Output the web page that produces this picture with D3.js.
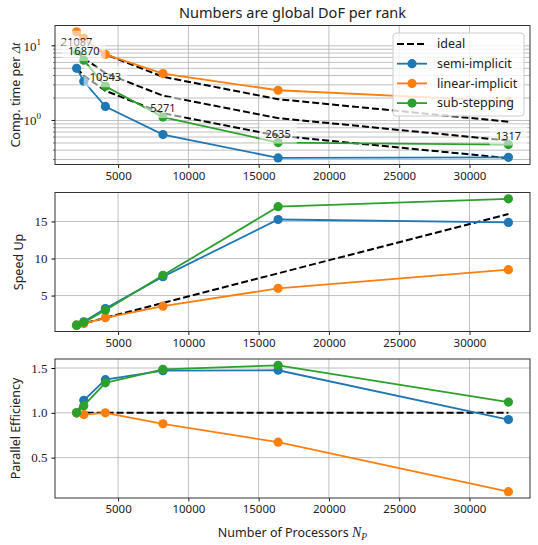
<!DOCTYPE html>
<html>
<head>
<meta charset="utf-8">
<script src="https://cdn.jsdelivr.net/npm/d3@7"></script>
<style>
body { margin: 0; background: #fff; }
text { fill: #222; }
</style>
</head>
<body>
<svg width="538" height="545"></svg>
<script>
// data
var procs = [2048, 2560, 4096, 8192, 16384, 32768];
var dofLabels = ["21087", "16870", "10543", "5271", "2635", "1317"];
var seriesNames = ["semi-implicit", "linear-implicit", "sub-stepping"];
var xTicks = [5000, 10000, 15000, 20000, 25000, 30000];

var timeSemi = [5.0, 3.35, 1.54, 0.648, 0.315, 0.321];
var timeLinear = [15.4, 12.6, 7.66, 4.25, 2.54, 1.82];
var timeSub = [8.6, 6.43, 2.87, 1.11, 0.506, 0.475];
var idealTimeSemi = [5.0, 4.0, 2.5, 1.25, 0.625, 0.3125];
var idealTimeLinear = [15.4, 12.32, 7.7, 3.85, 1.925, 0.9625];
var idealTimeSub = [8.6, 6.88, 4.3, 2.15, 1.075, 0.5375];

var speedSemi = [1, 1.45, 3.25, 7.55, 15.27, 14.87];
var speedLinear = [1, 1.22, 2.0, 3.56, 5.98, 8.5];
var speedSub = [1, 1.38, 3.03, 7.73, 17.0, 18.06];
var speedIdeal = [1, 1.25, 2, 4, 8, 16];
var speedTicks = [5, 10, 15];

var effSemi = [1, 1.14, 1.37, 1.47, 1.475, 0.925];
var effLinear = [1, 0.98, 1.0, 0.877, 0.672, 0.12];
var effSub = [1, 1.08, 1.335, 1.485, 1.53, 1.12];
var effIdeal = [1, 1, 1, 1, 1, 1];
var effTicks = [0.5, 1.0, 1.5];

var colors = ["#1f77b4", "#ff7f0e", "#2ca02c"];

var svg = d3.select("svg"),
  left = 55, right = 530, panelH = 139;

var x = d3.scaleLinear()
  .domain([512, 34304])
  .range([left, right]);

var sans = "'Noto Sans', 'DejaVu Sans', sans-serif";
var serif = "'Liberation Serif', 'DejaVu Serif', serif";

function pad(lo, hi, isLog) {
  if (isLog) {
    var a = Math.log10(lo), b = Math.log10(hi), m = (b - a) * 0.05;
    return [Math.pow(10, a - m), Math.pow(10, b + m)];
  }
  var m = (hi - lo) * 0.05;
  return [lo - m, hi + m];
}

function panel(top, y, gridY, series, ideals) {
  var g = svg.append("g");

  // grid
  g.selectAll(".gx").data(xTicks).enter().append("line")
    .attr("x1", x).attr("x2", x)
    .attr("y1", top).attr("y2", top + panelH)
    .attr("stroke", "#b0b0b0").attr("stroke-width", 0.8);
  g.selectAll(".gy").data(gridY).enter().append("line")
    .attr("x1", left).attr("x2", right)
    .attr("y1", y).attr("y2", y)
    .attr("stroke", "#b0b0b0").attr("stroke-width", 0.8);

  var line = d3.line()
    .x(function(d, i) { return x(procs[i]); })
    .y(function(d) { return y(d); });

  ideals.forEach(function(vals) {
    g.append("path")
      .attr("d", line(vals))
      .attr("fill", "none")
      .attr("stroke", "#000")
      .attr("stroke-width", 2)
      .attr("stroke-dasharray", "7,3");
  });

  series.forEach(function(vals, k) {
    g.append("path")
      .attr("d", line(vals))
      .attr("fill", "none")
      .attr("stroke", colors[k])
      .attr("stroke-width", 1.8);
    g.selectAll(".pt" + k).data(vals).enter().append("circle")
      .attr("cx", function(d, i) { return x(procs[i]); })
      .attr("cy", y)
      .attr("r", 4.6)
      .attr("fill", colors[k]);
  });

  // x axis
  var xa = g.append("g")
    .attr("transform", "translate(0," + (top + panelH) + ")")
    .call(d3.axisBottom(x).tickValues(xTicks).tickSize(3.5).tickPadding(3.5).tickFormat(d3.format("d")));
  xa.select(".domain").remove();
  xa.selectAll("text").attr("font-family", sans).attr("font-size", 11.5).attr("fill", "#222");
  xa.selectAll("line").attr("stroke", "#222");

  return g;
}

function frame(g, top) {
  g.append("rect")
    .attr("x", left).attr("y", top)
    .attr("width", right - left).attr("height", panelH)
    .attr("fill", "none")
    .attr("stroke", "#333")
    .attr("stroke-width", 1);
}

// ---------- top panel: time per step (log) ----------
var top1 = 25.5;
var yT = d3.scaleLog()
  .domain(pad(d3.min(idealTimeSemi), d3.max(timeLinear), true))
  .range([top1 + panelH, top1]);

var minor = [];
[0.1, 1, 10].forEach(function(dec) {
  for (var k = 1; k < 10; k++) {
    var v = k * dec;
    if (v >= yT.domain()[0] && v <= yT.domain()[1]) minor.push(v);
  }
});

var g1 = panel(top1, yT, minor,
  [timeSemi, timeLinear, timeSub],
  [idealTimeLinear, idealTimeSub, idealTimeSemi]);

// DoF per rank labels
dofLabels.forEach(function(lab, i) {
  var t = g1.append("text")
    .attr("x", x(procs[i]))
    .attr("y", yT(timeSub[i]) - 5)
    .attr("text-anchor", "middle")
    .attr("font-family", sans)
    .attr("font-size", 11)
    .attr("fill", "#333")
    .text(lab);
  var b = t.node().getBBox();
  g1.insert("rect", function() { return t.node(); })
    .attr("x", b.x - 6).attr("y", b.y - 3)
    .attr("width", b.width + 12).attr("height", b.height + 6)
    .attr("fill", "#fff").attr("fill-opacity", 0.55);
});

// minor ticks + decade labels on y
g1.selectAll(".mt").data(minor).enter().append("line")
  .attr("x1", left - 2).attr("x2", left)
  .attr("y1", yT).attr("y2", yT)
  .attr("stroke", "#222").attr("stroke-width", 0.6);
[1, 10].forEach(function(v) {
  g1.append("line")
    .attr("x1", left - 3.5).attr("x2", left)
    .attr("y1", yT(v)).attr("y2", yT(v))
    .attr("stroke", "#222");
  var t = g1.append("text")
    .attr("x", left - 14)
    .attr("y", yT(v) + 5)
    .attr("text-anchor", "end")
    .attr("font-family", serif)
    .attr("font-size", 13)
    .text("10");
  t.append("tspan")
    .attr("dy", -6)
    .attr("font-size", 9)
    .text(v === 1 ? "0" : "1");
});

// legend
var leg = g1.append("g").attr("transform", "translate(393,33)");
leg.append("rect")
  .attr("width", 131).attr("height", 83).attr("rx", 3)
  .attr("fill", "#fff").attr("fill-opacity", 0.8)
  .attr("stroke", "#ccc");
var legItems = ["ideal"].concat(seriesNames);
legItems.forEach(function(name, i) {
  var yy = 11 + i * 19.7;
  var ln = leg.append("line")
    .attr("x1", 4).attr("x2", 34)
    .attr("y1", yy).attr("y2", yy)
    .attr("stroke", i === 0 ? "#000" : colors[i - 1])
    .attr("stroke-width", i === 0 ? 2 : 1.8);
  if (i === 0) ln.attr("stroke-dasharray", "7,3");
  else leg.append("circle").attr("cx", 19).attr("cy", yy).attr("r", 4.6).attr("fill", colors[i - 1]);
  leg.append("text")
    .attr("x", 44).attr("y", yy)
    .attr("dy", "0.35em")
    .attr("font-family", sans)
    .attr("font-size", 12.5)
    .text(name);
});
frame(g1, top1);

// ---------- middle panel: speed up ----------
var top2 = 192.5;
var yS = d3.scaleLinear()
  .domain(pad(1, d3.max(speedSub), false))
  .range([top2 + panelH, top2]);
var g2 = panel(top2, yS, speedTicks,
  [speedSemi, speedLinear, speedSub], [speedIdeal]);
var ya2 = g2.append("g")
  .attr("transform", "translate(" + left + ",0)")
  .call(d3.axisLeft(yS).tickValues(speedTicks).tickSize(3.5).tickPadding(4));
ya2.select(".domain").remove();
ya2.selectAll("text").attr("font-family", serif).attr("font-size", 13).attr("fill", "#222");
frame(g2, top2);

// ---------- bottom panel: parallel efficiency ----------
var top3 = 359;
var yE = d3.scaleLinear()
  .domain(pad(d3.min(effLinear), d3.max(effSub), false))
  .range([top3 + panelH, top3]);
var g3 = panel(top3, yE, effTicks,
  [effSemi, effLinear, effSub], [effIdeal]);
var ya3 = g3.append("g")
  .attr("transform", "translate(" + left + ",0)")
  .call(d3.axisLeft(yE).tickValues(effTicks).tickSize(3.5).tickPadding(4).tickFormat(d3.format(".1f")));
ya3.select(".domain").remove();
ya3.selectAll("text").attr("font-family", serif).attr("font-size", 13).attr("fill", "#222");
frame(g3, top3);

// ---------- titles and labels ----------
svg.append("text")
  .attr("x", (left + right) / 2).attr("y", 18)
  .attr("text-anchor", "middle")
  .attr("font-family", sans)
  .attr("font-size", 14.5)
  .text("Numbers are global DoF per rank");

var yl1 = svg.append("text")
  .attr("transform", "translate(20," + (top1 + panelH / 2) + ") rotate(-90)")
  .attr("text-anchor", "middle")
  .attr("font-family", sans)
  .attr("font-size", 12.5)
  .text("Comp. time per ");
yl1.append("tspan").attr("font-family", serif).attr("font-style", "italic").text("Δt");

svg.append("text")
  .attr("transform", "translate(23," + (top2 + panelH / 2) + ") rotate(-90)")
  .attr("text-anchor", "middle")
  .attr("font-family", sans)
  .attr("font-size", 12.5)
  .text("Speed Up");

svg.append("text")
  .attr("transform", "translate(20," + (top3 + panelH / 2) + ") rotate(-90)")
  .attr("text-anchor", "middle")
  .attr("font-family", sans)
  .attr("font-size", 12.5)
  .text("Parallel Efficiency");

var xl = svg.append("text")
  .attr("x", (left + right) / 2).attr("y", 537)
  .attr("text-anchor", "middle")
  .attr("font-family", sans)
  .attr("font-size", 12.5)
  .text("Number of Processors ");
xl.append("tspan").attr("font-family", serif).attr("font-style", "italic").attr("font-size", 14).text("N");
xl.append("tspan").attr("font-family", serif).attr("font-style", "italic").attr("font-size", 9.5).attr("dy", 3).text("P");
</script>
</body>
</html>
